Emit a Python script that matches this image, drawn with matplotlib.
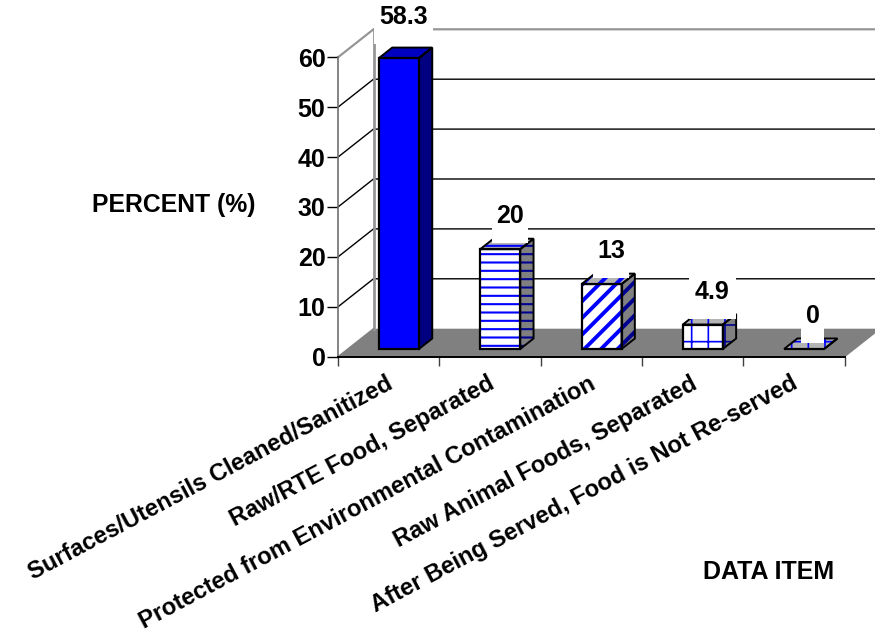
# Bar chart with a drawn 3D look, like the old Excel style
import matplotlib
matplotlib.use('Agg')
import matplotlib.pyplot as plt
from matplotlib.patches import Polygon, Rectangle

plt.rcParams['font.family'] = ['Liberation Sans', 'DejaVu Sans']
plt.rcParams['font.weight'] = 'bold'

# The data
categories = ['Surfaces/Utensils Cleaned/Sanitized', 'Raw/RTE Food, Separated',
              'Protected from Environmental Contamination', 'Raw Animal Foods, Separated',
              'After Being Served, Food is Not Re-served']
percent = [58.3, 20, 13, 4.9, 0]
value_labels = ['58.3', '20', '13', '4.9', '0']
y_ticks = [0, 10, 20, 30, 40, 50, 60]

# How each bar is filled
hatches = [None, '--', '//', '+', '+']
hatch_widths = [1, 1.5, 2.8, 1.2, 1.2]
label_lift = [8.2, 6.6, 6.6, 6.6, 6.6]
label_nudge = [-0.04, 0.01, 0.01, 0.01, 0]

W, H = 875, 636
fig = plt.figure(figsize=(W / 100, H / 100), dpi=100)

# Axes is the front plane of the 3D box
left, right, y0, y60 = 338, 844.5, 356.7, 57.3
ax = fig.add_axes([left / W, 1 - y0 / H, (right - left) / W, (y0 - y60) / H])
ax.set_xlim(0, 5)
ax.set_ylim(0, 60)
ax.patch.set_alpha(0)

# Depth of the box in data units
dx = 35.5 / 101.3
dy = 28 / 4.99


def pt(x, y, d):
    # d goes from 0 (front) to 1 (back wall)
    return (x + d * dx, y + d * dy)


# Floor and walls
ax.add_patch(Polygon([pt(0, 0, 0), pt(5, 0, 0), pt(5, 0, 1), pt(0, 0, 1)], fc='#808080', ec='none', clip_on=False, zorder=1))
for t in y_ticks[1:-1]:
    ax.plot(*zip(pt(0, t, 0), pt(0, t, 1), pt(5, t, 1)), color='black', lw=1, clip_on=False, zorder=1)
ax.plot(*zip(pt(0, 60, 0), pt(0, 60, 1), pt(5, 60, 1)), color='#969696', lw=1.6, clip_on=False, zorder=1)
ax.plot(*zip(pt(0, 0, 1), pt(0, 60, 1)), color='#969696', lw=2, clip_on=False, zorder=1)
ax.plot(*zip(pt(0, 0, 0), pt(0, 0, 1)), color='#808080', lw=1, clip_on=False, zorder=1)
ax.plot(*zip(pt(5, 0, 0), pt(5, 0, 1)), color='#808080', lw=1, clip_on=False, zorder=1)

# Bars
d1, d2 = 0.275, 0.65
bw = 0.395
for i, v in enumerate(percent):
    x1 = i + 0.505 - bw / 2
    x2 = i + 0.505 + bw / 2
    plt.rcParams['hatch.linewidth'] = hatch_widths[i]
    if hatches[i] is None:
        ax.add_patch(Polygon([pt(x2, 0, d1), pt(x2, 0, d2), pt(x2, v, d2), pt(x2, v, d1)], fc='#000080', ec='none', clip_on=False, zorder=2))
        ax.add_patch(Polygon([pt(x1, v, d1), pt(x2, v, d1), pt(x2, v, d2), pt(x1, v, d2)], fc='#0000c0', ec='none', clip_on=False, zorder=2))
        ax.bar(i + 0.505 + d1 * dx, v, bw, bottom=d1 * dy, color='#0000ff', lw=0, zorder=2, clip_on=False)
    else:
        # hatch colour goes with edgecolor, so the black outline is drawn after
        ax.add_patch(Polygon([pt(x2, 0, d1), pt(x2, 0, d2), pt(x2, v, d2), pt(x2, v, d1)], fc='#808080', ec='#000090', hatch=hatches[i], lw=0, clip_on=False, zorder=2))
        ax.add_patch(Polygon([pt(x1, v, d1), pt(x2, v, d1), pt(x2, v, d2), pt(x1, v, d2)], fc='#b4b4b4', ec='#0000ff', hatch=hatches[i], lw=0, clip_on=False, zorder=2))
        ax.bar(i + 0.505 + d1 * dx, v, bw, bottom=d1 * dy, color='white', edgecolor='#0000ff', hatch=hatches[i], lw=0, zorder=2, clip_on=False)
    # Black outlines
    ax.add_patch(Polygon([pt(x1, 0, d1), pt(x2, 0, d1), pt(x2, v, d1), pt(x1, v, d1)], fc='none', ec='black', lw=1.6, clip_on=False, zorder=3, joinstyle='miter'))
    ax.add_patch(Polygon([pt(x2, 0, d1), pt(x2, 0, d2), pt(x2, v, d2), pt(x2, v, d1)], fc='none', ec='black', lw=1.4, clip_on=False, zorder=3))
    ax.add_patch(Polygon([pt(x1, v, d1), pt(x2, v, d1), pt(x2, v, d2), pt(x1, v, d2)], fc='none', ec='black', lw=1.4, clip_on=False, zorder=3))

    # Value label with its white box, the box runs down a bit below the text
    xc = i + 0.5 + d1 * dx + 0.09 + label_nudge[i]
    yc = v + d1 * dy + label_lift[i]
    box_w = 0.11 + 0.12 * len(value_labels[i])
    ax.add_patch(Rectangle((xc - box_w / 2, yc - 5.4), box_w, 8.4, fc='white', ec='none', clip_on=False, zorder=4))
    ax.text(xc, yc, value_labels[i], ha='center', va='center', fontsize=18, color='black', clip_on=False, zorder=5)

# Axis lines and ticks
for s in ['top', 'right']:
    ax.spines[s].set_visible(False)
ax.spines['left'].set_linewidth(1.2)
ax.spines['left'].set_color('#707070')
ax.spines['bottom'].set_linewidth(1.4)
ax.set_xticks(range(6))
ax.set_xticklabels([])
ax.set_yticks(y_ticks)
ax.tick_params(axis='y', length=8, width=1, labelsize=18, pad=1)
ax.tick_params(axis='x', length=6.5, width=1, color='#404040')

# Slanted category names
for i, name in enumerate(categories):
    ax.annotate(name, xy=(i + 0.5, 0), xytext=(-2, -11), textcoords='offset points', ha='right', va='top',
                rotation=28, rotation_mode='anchor', fontsize=17.1, annotation_clip=False)

fig.text(173.5 / W, 1 - 205 / H, 'PERCENT (%)', ha='center', va='center', fontsize=17.8)
fig.text(768.5 / W, 1 - 572 / H, 'DATA ITEM', ha='center', va='center', fontsize=18)

plt.savefig('out.png', dpi=100)
